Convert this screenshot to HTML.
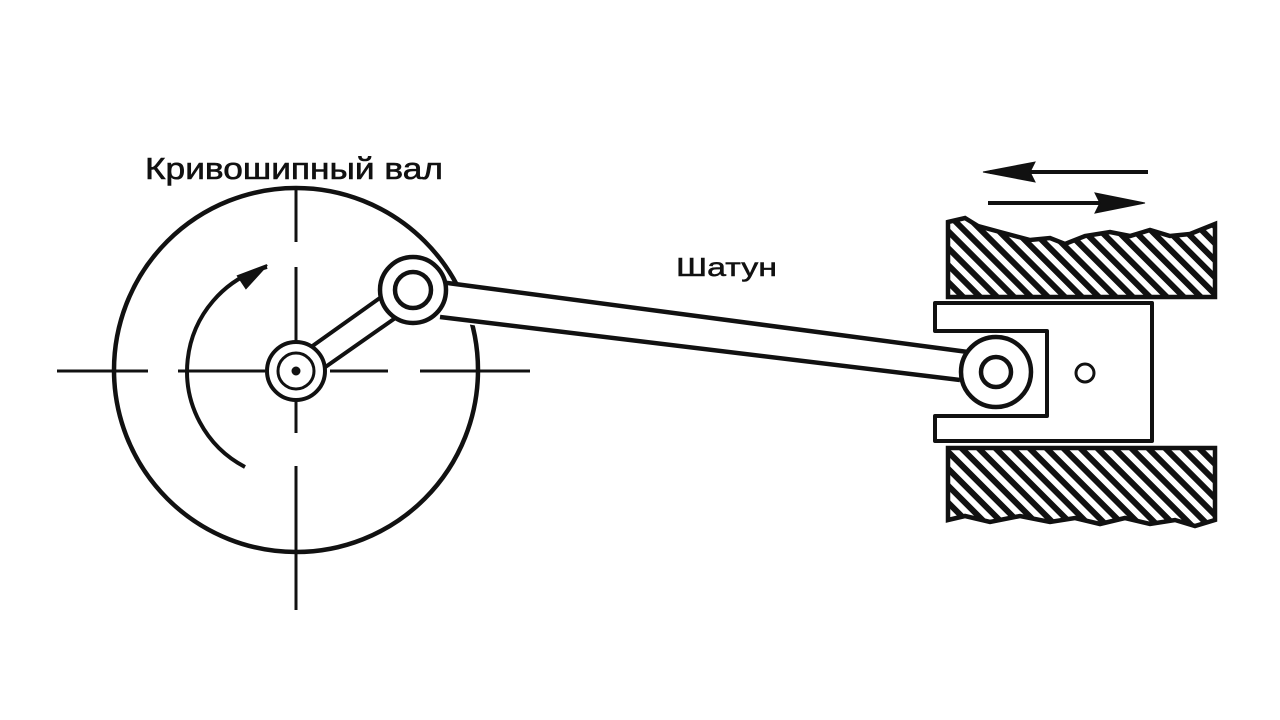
<!DOCTYPE html>
<html><head><meta charset="utf-8"><style>html,body{margin:0;padding:0;background:#fff}svg{display:block}</style></head>
<body>
<svg width="1280" height="720" viewBox="0 0 1280 720" xmlns="http://www.w3.org/2000/svg">
<defs>
<pattern id="h" patternUnits="userSpaceOnUse" width="12" height="12" patternTransform="rotate(-45)">
<rect width="12" height="12" fill="#fff"/>
<rect x="0" y="0" width="6" height="12" fill="#111"/>
</pattern>
</defs>
<g stroke="#111" fill="none">
<g stroke-width="3">
<line x1="57" y1="371" x2="148" y2="371"/>
<line x1="178" y1="371" x2="265" y2="371"/>
<line x1="330" y1="371" x2="388" y2="371"/>
<line x1="420" y1="371" x2="530" y2="371"/>
<line x1="296" y1="190" x2="296" y2="242"/>
<line x1="296" y1="267" x2="296" y2="345"/>
<line x1="296" y1="400" x2="296" y2="433"/>
<line x1="296" y1="466" x2="296" y2="610"/>
</g>
<circle cx="296" cy="370" r="182" stroke-width="4.5"/>
<path d="M245 467 A108 108 0 0 1 267 267" stroke-width="4"/>
<path d="M267 265 L238 276 L246 288 Z" fill="#111" stroke-width="2"/>
<polygon points="430,280 968,350 965,406 430,318" fill="#fff" stroke="none"/>
<line x1="440" y1="282" x2="968" y2="352" stroke-width="4.5"/>
<line x1="440" y1="317" x2="960" y2="380" stroke-width="4.5"/>
<polygon points="290,362 405,280 421,300 304,382" fill="#fff" stroke-width="4"/>
<circle cx="296" cy="371" r="29" fill="#fff" stroke-width="4"/>
<circle cx="296" cy="371" r="18" stroke-width="3"/>
<circle cx="296" cy="371" r="4" fill="#111" stroke-width="1"/>
<circle cx="413" cy="290" r="33" fill="#fff" stroke-width="4.5"/>
<circle cx="413" cy="290" r="18" stroke-width="4.5"/>
<path d="M948 222 L965 218 L978 226 L1000 232 L1030 240 L1050 238 L1065 244 L1085 236 L1110 232 L1130 236 L1150 230 L1170 236 L1190 234 L1215 224 L1215 297 L948 297 Z" fill="url(#h)" stroke-width="4.5"/>
<path d="M948 448 L1215 448 L1215 520 L1195 526 L1175 520 L1150 524 L1125 518 L1100 524 L1075 518 L1050 522 L1020 516 L990 522 L965 516 L948 520 Z" fill="url(#h)" stroke-width="4.5"/>
<path d="M935 303 L1152 303 L1152 441 L935 441 L935 416 L1047 416 L1047 331 L935 331 Z" fill="#fff" stroke-width="4" stroke-linejoin="round"/>
<circle cx="1085" cy="373" r="9" stroke-width="3"/>
<circle cx="996" cy="372" r="35" fill="#fff" stroke-width="4.5"/>
<circle cx="996" cy="372" r="15" stroke-width="4.5"/>
<line x1="990" y1="172" x2="1148" y2="172" stroke-width="4"/>
<path d="M983 172 L1035 162 L1030 172 L1035 182 Z" fill="#111" stroke-width="1"/>
<line x1="988" y1="203" x2="1135" y2="203" stroke-width="4"/>
<path d="M1145 203 L1095 193 L1100 203 L1095 213 Z" fill="#111" stroke-width="1"/>
</g>
<text x="145" y="179" font-family="Liberation Sans, sans-serif" font-size="31" fill="#111" stroke="#111" stroke-width="0.6" textLength="298" lengthAdjust="spacingAndGlyphs">Кривошипный вал</text>
<text x="676" y="276" font-family="Liberation Sans, sans-serif" font-size="26" fill="#111" stroke="#111" stroke-width="0.5" textLength="101" lengthAdjust="spacingAndGlyphs">Шатун</text>
</svg>
</body></html>
